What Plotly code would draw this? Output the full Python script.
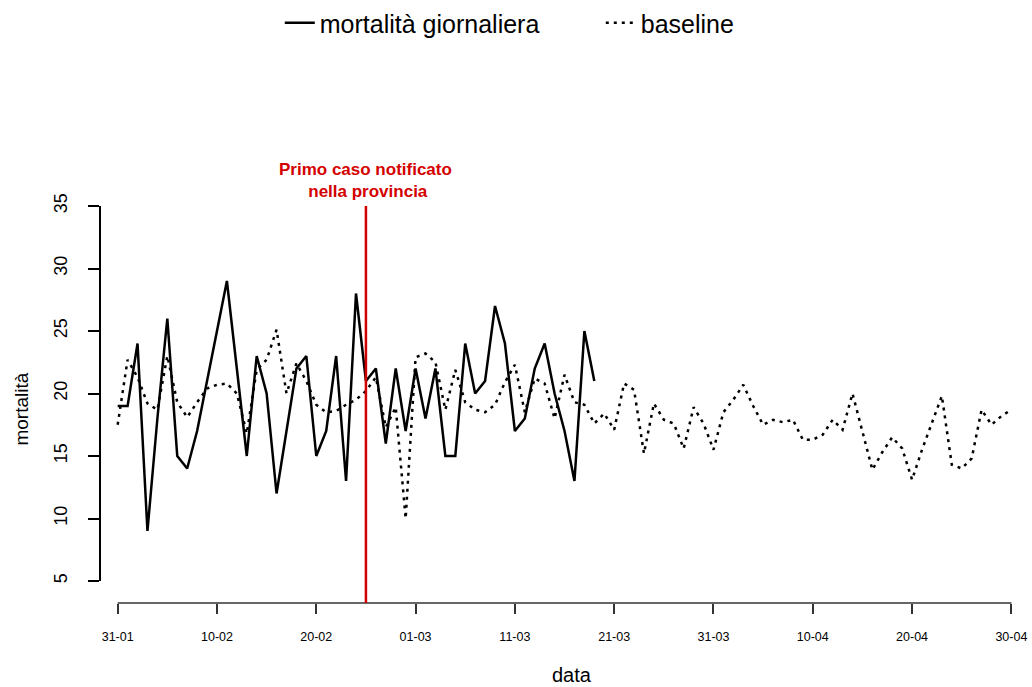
import pandas as pd
import plotly.graph_objects as go

start_date = "2020-01-31"
first_case_date = "2020-02-25"

mortalita = [19, 19, 24, 9, 18, 26, 15, 14, 17, 21,
             25, 29, 22, 15, 23, 20, 12, 17, 22, 23,
             15, 17, 23, 13, 28, 21, 22, 16, 22, 17,
             22, 18, 22, 15, 15, 24, 20, 21, 27, 24,
             17, 18, 22, 24, 20, 17, 13, 25, 21]

baseline = [17.5, 22.7, 21.3, 19.2, 18.7, 23.0, 19.3, 18.1, 19.3, 20.4,
            20.7, 20.8, 20.0, 16.8, 21.9, 22.7, 25.1, 20.0, 22.4, 21.0,
            19.1, 18.5, 18.6, 19.1, 19.5, 20.2, 21.3, 17.3, 18.9, 10.0,
            22.9, 23.2, 22.5, 18.7, 21.9, 19.3, 18.7, 18.5, 19.1, 20.9,
            22.3, 18.5, 21.2, 20.8, 18.0, 21.5, 19.3, 19.1, 17.6, 18.4,
            17.1, 20.8, 20.3, 15.2, 19.2, 17.9, 17.6, 15.6, 18.9, 17.6,
            15.5, 18.5, 19.5, 20.7, 19.0, 17.5, 17.9, 17.7, 17.9, 16.3,
            16.3, 16.7, 17.9, 17.1, 20.0, 17.0, 13.9, 15.3, 16.5, 15.6,
            13.1, 15.5, 17.6, 19.8, 14.3, 14.0, 14.8, 18.7, 17.5, 18.2,
            18.7]

tick_dates = ["2020-01-31", "2020-02-10", "2020-02-20", "2020-03-01", "2020-03-11",
              "2020-03-21", "2020-03-31", "2020-04-10", "2020-04-20", "2020-04-30"]
tick_labels = ["31-01", "10-02", "20-02", "01-03", "11-03",
               "21-03", "31-03", "10-04", "20-04", "30-04"]
y_ticks = [5, 10, 15, 20, 25, 30, 35]

dates_m = pd.date_range(start_date, periods=len(mortalita), freq="D")
dates_b = pd.date_range(start_date, periods=len(baseline), freq="D")

FONT = "Liberation Sans, Arial, sans-serif"
RED = "#d40000"

fig = go.Figure()
fig.add_trace(go.Scatter(x=dates_m, y=mortalita, mode="lines", name="mortalità giornaliera",
                         line=dict(color="black", width=2.5)))
fig.add_trace(go.Scatter(x=dates_b, y=baseline, mode="lines", name="baseline",
                         line=dict(color="black", width=2.5, dash="3px,5px")))

y_min, y_max = 3.24, 35.48
fig.update_layout(
    width=1032, height=687,
    margin=dict(l=100, r=10, t=200, b=84, autoexpand=False),
    paper_bgcolor="white", plot_bgcolor="white",
    font=dict(family=FONT, color="black"),
    showlegend=True,
    legend=dict(orientation="h", x=0.195, xanchor="left", yref="container", y=1.0, yanchor="top",
                font=dict(size=25, family=FONT), bgcolor="rgba(0,0,0,0)",
                entrywidth=276, entrywidthmode="pixels"),
    xaxis=dict(type="date", range=["2020-01-29 05:17", "2020-05-01 01:40"],
               tickvals=tick_dates, ticktext=tick_labels, ticks="outside", ticklen=10,
               tickwidth=1.5, tickcolor="#333", showgrid=False, zeroline=False, showline=False,
               tickfont=dict(size=12.5, family=FONT), ticklabelstandoff=12),
    yaxis=dict(range=[y_min, y_max], tickvals=y_ticks, ticks="outside", ticklen=11,
               tickwidth=1.5, tickcolor="black", showgrid=False, zeroline=False, showline=False,
               tickfont=dict(size=18, family=FONT), tickangle=-90, ticklabelstandoff=14),
)

# axis lines in R style (spanning first to last tick)
fig.add_shape(type="line", xref="paper", yref="y", x0=0, x1=0, y0=y_ticks[0], y1=y_ticks[-1],
              line=dict(color="black", width=2))
fig.add_shape(type="line", xref="x", yref="paper", x0=tick_dates[0], x1=tick_dates[-1], y0=0, y1=0,
              line=dict(color="#333", width=1.5))

# first notified case marker
fig.add_shape(type="line", xref="x", yref="y", x0=first_case_date, x1=first_case_date,
              y0=y_min, y1=35, line=dict(color=RED, width=2.5))
fig.add_annotation(x=first_case_date, xref="x", y=35, yref="y", yanchor="middle", yshift=26,
                   text="<b>Primo caso notificato<br> nella provincia</b>", showarrow=False,
                   font=dict(size=17, color=RED, family=FONT), align="center", borderpad=0)

fig.add_annotation(xref="paper", yref="paper", x=0.512, y=0, yshift=-72, yanchor="middle",
                   text="data", showarrow=False, font=dict(size=20, family=FONT))
fig.add_annotation(xref="paper", yref="paper", x=0, xshift=-78, y=0.48, textangle=-90,
                   xanchor="center", text="mortalità", showarrow=False, font=dict(size=19, family=FONT))

fig.write_html("out.html")
